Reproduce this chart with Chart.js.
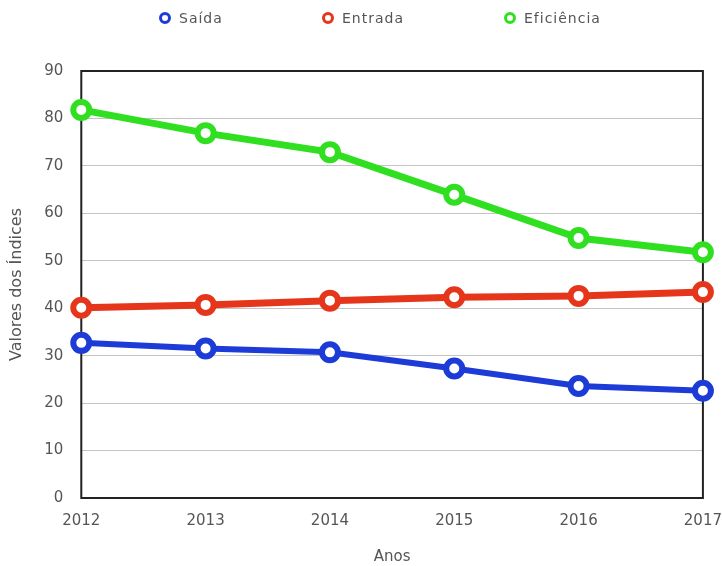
<!DOCTYPE html>
<html lang="pt">
<head>
  <meta charset="UTF-8" />
  <title>Índices 2012-2017</title>
  <script src="https://cdn.jsdelivr.net/npm/chart.js"></script>
  <style>
    html, body { margin: 0; padding: 0; background: #fff; }
    #wrap { position: relative; width: 722px; height: 566px; }
    #legend { position: absolute; top: 8px; left: 0; width: 722px; height: 20px;
              font: 14px 'DejaVu Sans', sans-serif; color: #555; letter-spacing: 1px; }
    .item { position: absolute; top: 0; display: flex; align-items: center; height: 20px; }
    .dot { width: 6px; height: 6px; border-radius: 50%; border: 3px solid; margin-right: 8px; background: #fff; }
  </style>
</head>
<body>
  <div id="wrap">
    <div id="legend"></div>
    <canvas id="chart"></canvas>
  </div>

  <script>
    const anos = ['2012', '2013', '2014', '2015', '2016', '2017'];
    const saida = [32.7, 31.5, 30.7, 27.3, 23.6, 22.6];
    const entrada = [40.1, 40.7, 41.6, 42.3, 42.6, 43.4];
    const eficiencia = [81.8, 76.9, 72.9, 63.9, 54.8, 51.8];

    const cores = { saida: '#1d3bd6', entrada: '#e5361c', eficiencia: '#2fdf20' };
    const tickFont = { family: 'DejaVu Sans', size: 15 };

    const serie = (label, data, color, width) => ({
      label, data,
      borderColor: color,
      backgroundColor: '#fff',
      borderWidth: width,
      pointRadius: 8,
      pointBorderWidth: 6,
      pointBackgroundColor: '#fff',
      pointBorderColor: color,
      tension: 0,
      clip: false
    });

    // moldura preta em volta da área do gráfico
    const frame = {
      id: 'frame',
      beforeDatasetsDraw(chart) {
        const { ctx, chartArea: a } = chart;
        ctx.save();
        ctx.strokeStyle = '#222';
        ctx.lineWidth = 2;
        ctx.strokeRect(a.left, a.top, a.right - a.left, a.bottom - a.top);
        ctx.restore();
      }
    };

    const chart = new Chart(document.getElementById('chart'), {
      type: 'line',
      data: {
        labels: anos,
        datasets: [
          serie('Saída', saida, cores.saida, 6),
          serie('Entrada', entrada, cores.entrada, 7),
          serie('Eficiência', eficiencia, cores.eficiencia, 7)
        ]
      },
      options: {
        responsive: true,
        maintainAspectRatio: false,
        animation: false,
        layout: { autoPadding: false, padding: { left: 0, right: 0, top: 71, bottom: 0 } },
        plugins: {
          legend: { display: false },
          tooltip: { enabled: false }
        },
        scales: {
          x: {
            offset: false,
            // marcas invisíveis só para afastar os rótulos do eixo
            grid: { display: true, color: 'transparent', drawTicks: true, tickLength: 14 },
            border: { display: false },
            ticks: { color: '#555', padding: 0, maxRotation: 0, font: tickFont },
            title: { display: true, text: 'Anos', color: '#555', padding: { top: 18, bottom: 0 },
                     font: { family: 'DejaVu Sans', size: 15 } }
          },
          y: {
            min: 0,
            max: 90,
            ticks: { stepSize: 10, color: '#555', padding: 18, font: tickFont },
            grid: { color: '#c4c4c4', lineWidth: 1, drawTicks: false },
            border: { display: false },
            title: { display: true, text: 'Valores dos Índices', color: '#555', padding: { top: 7, bottom: 0 },
                     font: { family: 'DejaVu Sans', size: 16 } }
          }
        }
      },
      plugins: [frame]
    });

    // legenda em HTML (itens bem espaçados como no original)
    const legendX = [159, 322, 504];
    chart.data.datasets.forEach((ds, i) => {
      const item = document.createElement('div');
      item.className = 'item';
      item.style.left = legendX[i] + 'px';
      const dot = document.createElement('span');
      dot.className = 'dot';
      dot.style.borderColor = ds.borderColor;
      item.appendChild(dot);
      item.appendChild(document.createTextNode(ds.label));
      document.getElementById('legend').appendChild(item);
    });
  </script>
</body>
</html>
